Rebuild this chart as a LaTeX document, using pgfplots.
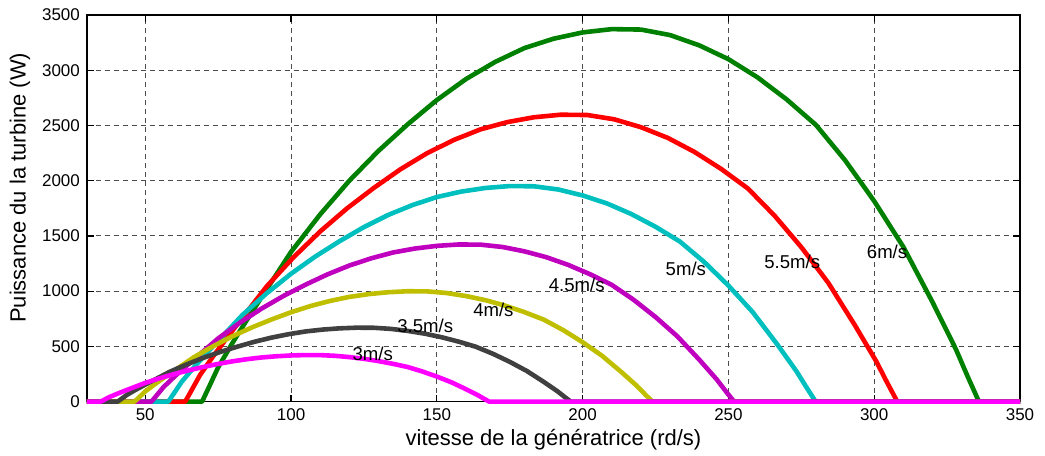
\documentclass[border=0pt]{standalone}
\usepackage{fontspec}
\setmainfont{Liberation Sans}
\usepackage{pgfplots}
\pgfplotsset{compat=1.18}
\definecolor{mgreen}{rgb}{0,0.5,0}
\definecolor{mred}{rgb}{1,0,0}
\definecolor{mcyan}{rgb}{0,0.75,0.75}
\definecolor{mpurple}{rgb}{0.75,0,0.75}
\definecolor{myellow}{rgb}{0.75,0.75,0}
\definecolor{mgray}{rgb}{0.25,0.25,0.25}
\definecolor{mmag}{rgb}{1,0,1}
\begin{document}
\begin{tikzpicture}
\begin{axis}[
  scale only axis, width=467pt, height=193.5pt,
  xmin=30, xmax=350, ymin=0, ymax=3500,
  xtick={50,100,...,350}, ytick={0,500,...,3500},
  tick align=inside, major tick length=3.5pt,
  grid=major,
  grid style={black!70, dash pattern=on 2.5pt off 2pt, line width=0.45pt},
  axis line style={black, line width=0.6pt},
  tick style={black, line width=0.6pt},
  /pgf/number format/assume math mode=true,
  /pgf/number format/1000 sep={},
  scaled y ticks=false,
  tick label style={font=\fontsize{8.5}{10}\selectfont},
  label style={font=\fontsize{11}{13}\selectfont},
  xlabel={vitesse de la génératrice (rd/s)},
  ylabel={Puissance du la turbine (W)},
  xlabel style={at={(axis description cs:0.5,-0.098)}, anchor=center},
  ylabel style={at={(axis description cs:-0.0717,0.553)}, anchor=center},
  clip=false,
  every axis plot/.append style={line width=2.3pt, line join=round, no marks},
]
% 6 m/s
\addplot[mgreen] coordinates {
(30,0) (69.5,0) (72,140) (75,310) (80,535) (85,745) (90,950) (100,1355) (110,1695) (120,2000)
(130,2270) (140,2510) (150,2730) (160,2920) (170,3075) (180,3200) (190,3285) (200,3342) (210,3372)
(220,3368) (230,3318) (240,3225) (250,3100) (260,2935) (270,2735) (280,2505) (290,2185) (300,1815)
(310,1400) (320,900) (328,475) (332,230) (335.9,0) (350,0)};
% 5.5 m/s
\addplot[mred] coordinates {
(30,0) (63.71,0) (66.0,107.8) (68.75,238.8) (73.33,412.1) (77.92,573.8) (82.5,731.7) (91.67,1043.7)
(100.83,1305.6) (110,1540.5) (119.17,1748.5) (128.33,1933.3) (137.5,2102.8) (146.67,2249.1)
(155.83,2368.5) (165,2464.8) (174.17,2530.3) (183.33,2574.2) (192.5,2597.3) (201.67,2594.2)
(210.83,2555.7) (220,2484.1) (229.17,2387.8) (238.33,2260.7) (247.5,2106.6) (256.67,1929.5)
(265.83,1683.0) (275,1398.0) (284.17,1078.4) (293.33,693.2) (300.67,365.9) (304.33,177.2) (307.91,0) (350,0)};
% 5 m/s
\addplot[mcyan] coordinates {
(30,0) (57.92,0) (60,81.0) (62.5,179.4) (66.67,309.6) (70.83,431.1) (75,549.8) (83.33,784.1)
(91.67,980.9) (100,1157.4) (108.33,1313.6) (116.67,1452.5) (125,1579.9) (133.33,1689.8)
(141.67,1779.5) (150,1851.9) (158.33,1901.0) (166.67,1934.0) (175,1951.4) (183.33,1949.1)
(191.67,1920.1) (200,1866.3) (208.33,1794.0) (216.67,1698.5) (225,1582.8) (233.33,1449.6)
(241.67,1264.5) (250,1050.3) (258.33,810.2) (266.67,520.8) (273.33,274.9) (276.67,133.1) (279.92,0) (350,0)};
% 4.5 m/s
\addplot[mpurple] coordinates {
(30,0) (52.13,0) (54,59.1) (56.25,130.8) (60,225.7) (63.75,314.3) (67.5,400.8) (75,571.6)
(82.5,715.1) (90,843.8) (97.5,957.7) (105,1058.9) (112.5,1151.7) (120,1231.9) (127.5,1297.3)
(135,1350) (142.5,1385.9) (150,1409.9) (157.5,1422.6) (165,1420.9) (172.5,1399.8) (180,1360.5)
(187.5,1307.8) (195,1238.2) (202.5,1153.8) (210,1056.8) (217.5,921.8) (225,765.7) (232.5,590.6)
(240,379.7) (246,200.4) (249,97.0) (251.93,0) (350,0)};
% 4 m/s
\addplot[myellow] coordinates {
(30,0) (46.33,0) (48,41.5) (50,91.9) (53.33,158.5) (56.67,220.7) (60,281.5) (66.67,401.5)
(73.33,502.2) (80,592.6) (86.67,672.6) (93.33,743.7) (100,808.9) (106.67,865.2) (113.33,911.1)
(120,948.1) (126.67,973.3) (133.33,990.2) (140,999.1) (146.67,997.9) (153.33,983.1) (160,955.6)
(166.67,918.5) (173.33,869.6) (180,810.4) (186.67,742.2) (193.33,647.4) (200,537.8) (206.67,414.8)
(213.33,266.7) (218.67,140.7) (221.33,68.1) (223.93,0) (350,0)};
% 3.5 m/s
\addplot[mgray] coordinates {
(30,0) (40.54,0) (42,27.8) (43.75,61.5) (46.67,106.2) (49.58,147.9) (52.5,188.6) (58.33,269.0)
(64.17,336.4) (70,397.0) (75.83,450.6) (81.67,498.2) (87.5,541.9) (93.33,579.6) (99.17,610.4)
(105,635.2) (110.83,652.1) (116.67,663.4) (122.5,669.3) (128.33,668.5) (134.17,658.6) (140,640.1)
(145.83,615.3) (151.67,582.6) (157.5,542.9) (163.33,497.2) (169.17,433.7) (175,360.3) (180.83,277.9)
(186.67,178.6) (191.33,94.3) (193.67,45.7) (195.94,0) (350,0)};
% 3 m/s
\addplot[mmag] coordinates {
(30,0) (34.75,0) (36,17.5) (37.5,38.8) (40,66.9) (42.5,93.1) (45,118.8) (50,169.4) (55,211.9)
(60,250) (65,283.8) (70,313.8) (75,341.3) (80,365) (85,384.4) (90,400) (95,410.6) (100,417.8)
(105,421.5) (110,421) (115,414.8) (120,403.1) (125,387.5) (130,366.9) (135,341.9) (140,313.1)
(145,273.1) (150,226.9) (155,175) (160,112.5) (164,59.4) (166,28.8) (167.95,0) (350,0)};
\begin{scope}[every node/.style={font=\fontsize{9.3}{11}\selectfont, inner sep=0.5pt}]
\node at (axis cs:128,434) {3m/s};
\node at (axis cs:146,687) {3.5m/s};
\node at (axis cs:169.4,832) {4m/s};
\node at (axis cs:198,1054) {4.5m/s};
\node at (axis cs:235.4,1198) {5m/s};
\node at (axis cs:271.9,1262) {5.5m/s};
\node at (axis cs:304.4,1352) {6m/s};
\end{scope}
\end{axis}
\pgfresetboundingbox
\path (-43.5pt,-27pt) rectangle (479.5pt,201pt);
\end{tikzpicture}
\end{document}
